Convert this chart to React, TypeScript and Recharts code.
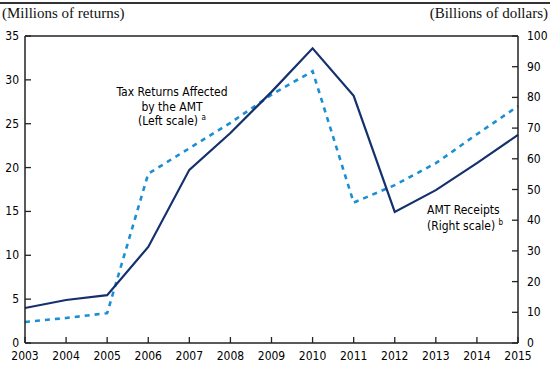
import React from "react";
import { LineChart, Line, XAxis, YAxis, ReferenceLine } from "recharts";

const years = [2003, 2004, 2005, 2006, 2007, 2008, 2009, 2010, 2011, 2012, 2013, 2014, 2015];
const returnsAffected = [2.4, 2.85, 3.4, 19.3, 22.2, 25.1, 28.3, 31.0, 16.0, 18.0, 20.5, 23.8, 27.0];
const amtReceipts = [11.4, 14.0, 15.6, 31.3, 56.4, 68.4, 81.8, 96.0, 80.5, 42.7, 49.8, 58.6, 67.8];
const leftTicks = [0, 5, 10, 15, 20, 25, 30, 35];
const rightTicks = [0, 10, 20, 30, 40, 50, 60, 70, 80, 90, 100];

const data = years.map((y, i) => ({ year: y, returns: returnsAffected[i], receipts: amtReceipts[i] }));

const FONT = "'Liberation Sans Narrow', 'DejaVu Sans Condensed', 'Roboto Condensed', sans-serif";
const SERIF = "'Liberation Serif', 'DejaVu Serif', serif";
const AXIS = "#222";

const LeftTick = (props: any) => {
  const { x, y, payload } = props;
  return (
    <g>
      <line x1={x} y1={y} x2={x + 6} y2={y} stroke={AXIS} strokeWidth={1.3} />
      <text x={x - 6} y={y + 4} textAnchor="end" fontSize={12} fontFamily={FONT} fill="#000">
        {payload.value}
      </text>
    </g>
  );
};

const RightTick = (props: any) => {
  const { x, y, payload } = props;
  return (
    <g>
      <line x1={x} y1={y} x2={x - 6} y2={y} stroke={AXIS} strokeWidth={1.3} />
      <text x={x + 9} y={y + 4} textAnchor="start" fontSize={12} fontFamily={FONT} fill="#000">
        {payload.value}
      </text>
    </g>
  );
};

const BottomTick = (props: any) => {
  const { x, y, payload } = props;
  return (
    <g>
      <line x1={x} y1={y} x2={x} y2={y - 6} stroke={AXIS} strokeWidth={1.3} />
      <text x={x} y={y + 17} textAnchor="middle" fontSize={12} fontFamily={FONT} fill="#000">
        {payload.value}
      </text>
    </g>
  );
};

const supStyle: React.CSSProperties = { fontSize: 8, position: "relative", top: -5, verticalAlign: "baseline", lineHeight: 0 };

export default function App() {
  return (
    <div style={{ position: "absolute", left: 0, top: 0, width: 550, height: 369, background: "#fff" }}>
      <div style={{ position: "absolute", left: 0, top: 2, width: 550, height: 2, background: "#333" }} />
      <div style={{ position: "absolute", left: 2, top: 5, fontFamily: SERIF, fontSize: 15, color: "#111" }}>
        (Millions of returns)
      </div>
      <div style={{ position: "absolute", right: 2, top: 5, fontFamily: SERIF, fontSize: 15, color: "#111" }}>
        (Billions of dollars)
      </div>
      <LineChart
        width={550}
        height={369}
        data={data}
        margin={{ top: 36, right: 0, bottom: 0, left: 0 }}
        style={{ position: "absolute", left: 0, top: 0 }}
      >
        <XAxis
          dataKey="year"
          type="number"
          domain={[2003, 2015]}
          ticks={years}
          height={26}
          tickLine={false}
          tickSize={0}
          tickMargin={0}
          axisLine={{ stroke: AXIS, strokeWidth: 1.5 }}
          tick={<BottomTick />}
          interval={0}
        />
        <YAxis
          yAxisId="left"
          orientation="left"
          width={25}
          domain={[0, 35]}
          ticks={leftTicks}
          tickLine={false}
          tickSize={0}
          tickMargin={0}
          axisLine={{ stroke: AXIS, strokeWidth: 1.5 }}
          tick={<LeftTick />}
          interval={0}
        />
        <YAxis
          yAxisId="right"
          orientation="right"
          width={32}
          domain={[0, 100]}
          ticks={rightTicks}
          tickLine={false}
          tickSize={0}
          tickMargin={0}
          axisLine={{ stroke: AXIS, strokeWidth: 1.5 }}
          tick={<RightTick />}
          interval={0}
        />
        <ReferenceLine yAxisId="left" y={35} stroke={AXIS} strokeWidth={1.5} />
        <Line
          yAxisId="left"
          dataKey="returns"
          stroke="#1b8fd2"
          strokeWidth={2.6}
          strokeDasharray="5 5"
          dot={false}
          isAnimationActive={false}
        />
        <Line
          yAxisId="right"
          dataKey="receipts"
          stroke="#15306e"
          strokeWidth={2.2}
          dot={false}
          isAnimationActive={false}
        />
      </LineChart>
      <div
        style={{
          position: "absolute",
          left: 112,
          top: 85,
          width: 120,
          textAlign: "center",
          fontFamily: FONT,
          fontSize: 12,
          lineHeight: "14.5px",
          color: "#000",
        }}
      >
        Tax Returns Affected
        <br />
        by the AMT
        <br />
        (Left scale) <span style={supStyle}>a</span>
      </div>
      <div
        style={{
          position: "absolute",
          left: 427,
          top: 202,
          fontFamily: FONT,
          fontSize: 12,
          lineHeight: "16px",
          color: "#000",
        }}
      >
        AMT Receipts
        <br />
        (Right scale) <span style={supStyle}>b</span>
      </div>
    </div>
  );
}
